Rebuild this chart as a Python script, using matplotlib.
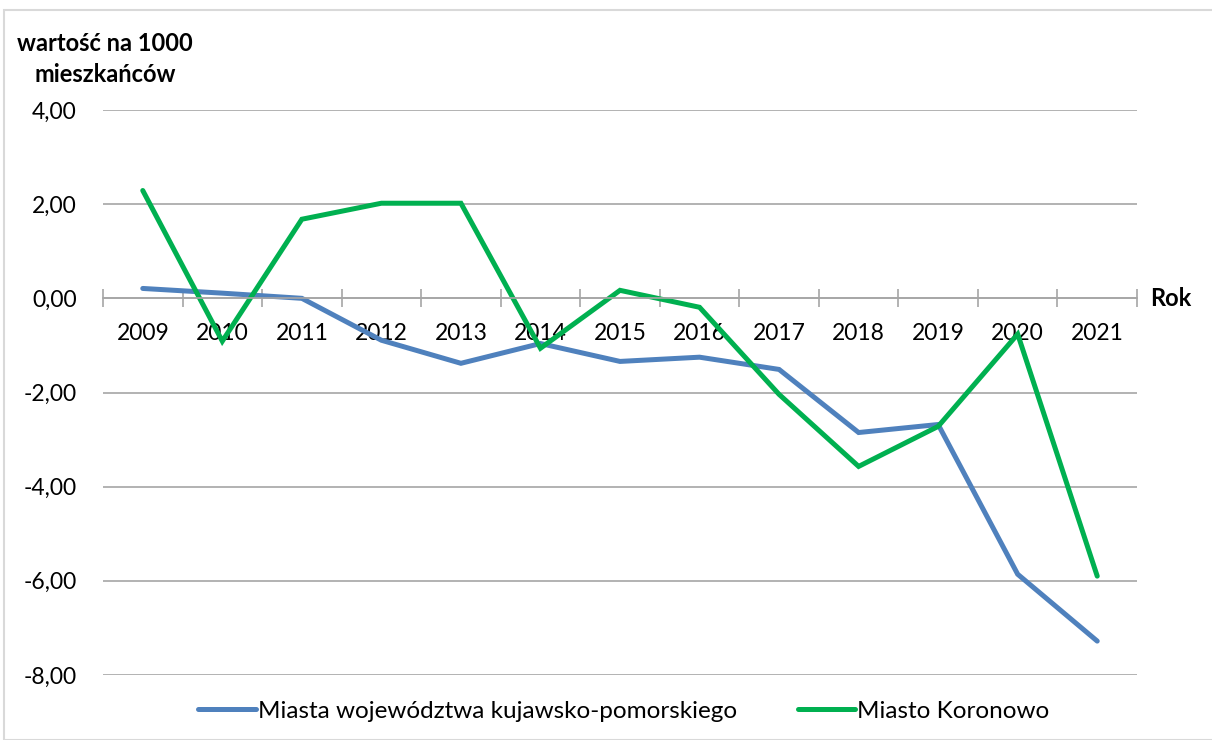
import matplotlib.pyplot as plt
from matplotlib.patches import Rectangle
from matplotlib.ticker import FuncFormatter, FixedLocator

plt.rcParams['font.family'] = ['Lato', 'DejaVu Sans']

# Data
years = ['2009', '2010', '2011', '2012', '2013', '2014', '2015',
         '2016', '2017', '2018', '2019', '2020', '2021']
kujawsko = [0.21, 0.11, 0.0, -0.89, -1.38, -0.96, -1.34,
            -1.25, -1.51, -2.85, -2.68, -5.86, -7.28]
koronowo = [2.29, -0.91, 1.68, 2.02, 2.02, -1.06, 0.17,
            -0.19, -2.04, -3.57, -2.72, -0.76, -5.90]
label_kujawsko = 'Miasta województwa kujawsko-pomorskiego'
label_koronowo = 'Miasto Koronowo'

fig = plt.figure(figsize=(12.12, 7.40), dpi=100)
ax = fig.add_axes([103 / 1212, 1 - 675 / 740, (1137 - 103) / 1212, (675 - 110) / 740])

x = list(range(len(years)))
ax.plot(x, kujawsko, color='#4F81BD', lw=3.6, label=label_kujawsko,
        solid_capstyle='round', solid_joinstyle='miter')
ax.plot(x, koronowo, color='#00B050', lw=3.6, label=label_koronowo,
        solid_capstyle='round', solid_joinstyle='miter')

ax.set_xlim(-0.5, len(years) - 0.5)
ax.set_ylim(-8, 4)
ax.set_yticks([-8, -6, -4, -2, 0, 2, 4])
ax.yaxis.set_major_formatter(FuncFormatter(lambda v, p: f'{v:.2f}'.replace('.', ',')))
ax.grid(axis='y', color='#A6A6A6', lw=1.2)
ax.set_axisbelow(True)

for s in ['top', 'right', 'left']:
    ax.spines[s].set_visible(False)
ax.spines['bottom'].set_position(('data', 0))
ax.spines['bottom'].set_color('#A6A6A6')
ax.spines['bottom'].set_linewidth(1.2)

# category labels at centres, tick marks at boundaries
ax.set_xticks(x)
ax.set_xticklabels(years)
ax.xaxis.set_minor_locator(FixedLocator([i - 0.5 for i in range(len(years) + 1)]))
ax.tick_params(axis='x', which='major', length=0, pad=18, labelsize=16.5)
ax.tick_params(axis='x', which='minor', length=13, direction='inout', color='#A6A6A6', width=1.2)
ax.tick_params(axis='y', length=0, pad=19, labelsize=16.5)

fig.text(1150 / 1212, 1 - 298 / 740, 'Rok', fontsize=17, fontweight='bold', va='center')
fig.text(105 / 1212, 1 - 59 / 740, 'wartość na 1000\nmieszkańców', fontsize=17,
         fontweight='bold', ha='center', va='center', multialignment='center', linespacing=1.45)

fig.legend(loc='center', bbox_to_anchor=(624 / 1212, 1 - 711 / 740), ncol=2, frameon=False,
           fontsize=17.5, handlelength=2.35, handletextpad=0.1, columnspacing=2.5)

# chart border
fig.patches.append(Rectangle((4 / 1212, 0), 1210 / 1212, 1 - 10 / 740, transform=fig.transFigure,
                             fill=False, edgecolor='#D9D9D9', lw=1.5))

fig.savefig('out.png', dpi=100)
